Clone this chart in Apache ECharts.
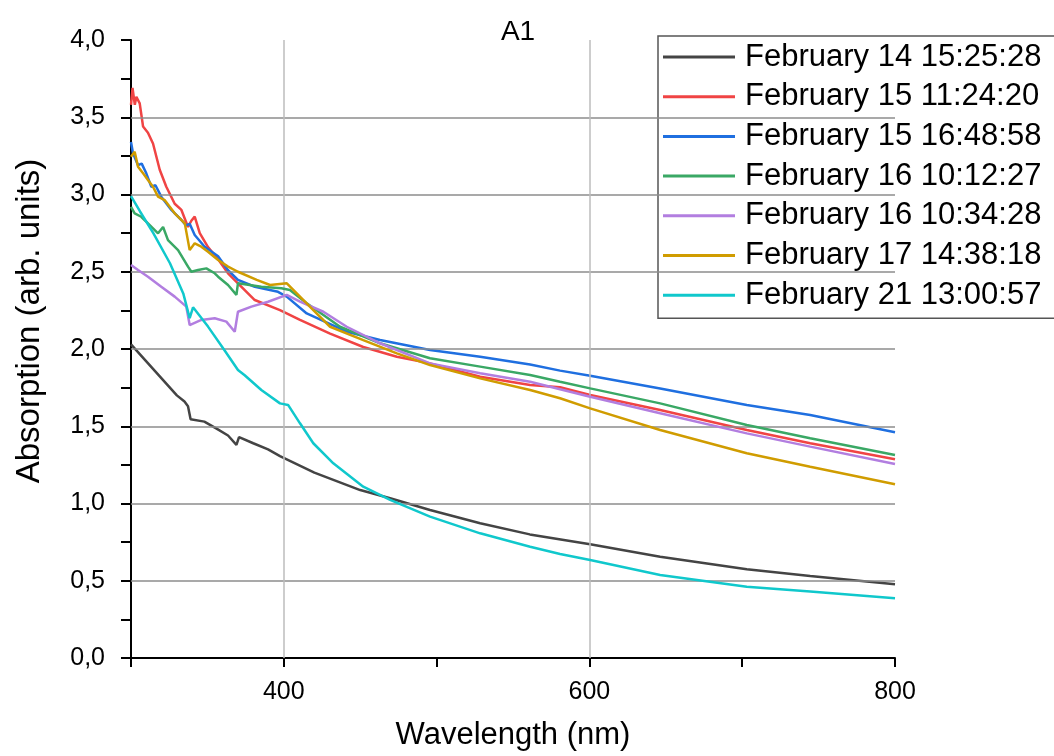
<!DOCTYPE html>
<html><head><meta charset="utf-8">
<script src="https://cdn.jsdelivr.net/npm/echarts@6/dist/echarts.min.js"></script>
<style>html,body{margin:0;padding:0;background:#fff}#c{width:1054px;height:756px}</style>
</head><body><div id="c"></div>
<script>
const seriesNames = ['February 14 15:25:28','February 15 11:24:20','February 15 16:48:58','February 16 10:12:27','February 16 10:34:28','February 17 14:38:18','February 21 13:00:57'];
const seriesColors = ['#444444','#f04444','#1f6fe0','#3aa865','#b27ee0','#d09c00','#10c8cc'];
const yTicks = [0.5,1.0,1.5,2.0,2.5,3.0,3.5];
const xGridTicks = [400,600];

const feb14 = [[300,2.03],[310,1.92],[320,1.81],[330,1.70],[335,1.66],[337.3,1.63],[339,1.545],[348,1.53],[356,1.485],[363.5,1.44],[369,1.38],[370.7,1.43],[380,1.39],[389.7,1.35],[397.5,1.307],[420,1.2],[450,1.087],[469.6,1.034],[495.7,0.958],[528.5,0.872],[561,0.80],[600.5,0.736],[646.3,0.656],[703,0.574],[744.5,0.53],[800,0.477]];
const feb15a = [[300,3.58],[301,3.69],[302.5,3.58],[303.5,3.633],[305.7,3.59],[307.9,3.44],[311.1,3.40],[314.4,3.33],[318.8,3.16],[323.1,3.05],[328.6,2.94],[333,2.90],[337.3,2.79],[339.5,2.83],[341.7,2.857],[345,2.75],[350.4,2.66],[357,2.58],[363.5,2.49],[370,2.425],[381,2.317],[397.5,2.252],[410.6,2.188],[430.3,2.10],[452,2.013],[474,1.95],[495.7,1.907],[528.5,1.82],[561.2,1.767],[580.8,1.752],[600.5,1.702],[646.3,1.605],[703,1.476],[744.5,1.39],[800,1.286]];
const feb15b = [[300,3.34],[301.3,3.267],[304.6,3.19],[307,3.2],[310,3.137],[313.3,3.05],[316,3.06],[319.8,2.986],[326.4,2.90],[333,2.835],[336,2.80],[338.4,2.81],[341.7,2.738],[348.2,2.662],[357,2.60],[363.5,2.51],[370,2.447],[381,2.403],[396.2,2.37],[401.9,2.339],[415,2.23],[441.2,2.112],[463,2.058],[495.7,1.994],[528.5,1.95],[561.2,1.90],[580.8,1.86],[600.5,1.827],[646.3,1.745],[703,1.638],[744.5,1.573],[800,1.461]];
const feb16a = [[300,2.92],[302.4,2.878],[306.7,2.856],[311.1,2.813],[317.7,2.749],[321,2.79],[324.2,2.705],[330.8,2.64],[337.3,2.533],[339.5,2.50],[343.9,2.511],[349.3,2.522],[354.8,2.49],[357,2.468],[363.5,2.414],[369,2.35],[370,2.425],[385.3,2.403],[398.4,2.393],[404,2.382],[415,2.296],[436.8,2.144],[463,2.037],[495.7,1.94],[528.5,1.886],[561.2,1.832],[580.8,1.788],[600.5,1.745],[646.3,1.648],[703,1.508],[744.5,1.422],[800,1.314]];
const feb16b = [[300,2.544],[304.6,2.511],[311.1,2.468],[319.8,2.403],[328.6,2.339],[336.2,2.274],[338.4,2.155],[346,2.188],[354.8,2.199],[362.4,2.177],[367.9,2.112],[370,2.241],[378.8,2.274],[389.7,2.306],[401.9,2.35],[410.6,2.306],[425.9,2.241],[441.2,2.144],[463,2.037],[495.7,1.907],[528.5,1.843],[561.2,1.788],[580.8,1.739],[600.5,1.691],[646.3,1.584],[703,1.454],[744.5,1.368],[800,1.256]];
const feb17 = [[300,3.245],[302.4,3.277],[304.6,3.18],[307.9,3.137],[311.1,3.094],[314.4,3.05],[317.7,2.986],[322,2.964],[328.6,2.878],[335.2,2.813],[338.4,2.64],[341.7,2.684],[346,2.662],[350.4,2.63],[357,2.576],[363.5,2.533],[370,2.50],[382.3,2.447],[391,2.414],[402,2.425],[408.5,2.36],[419.3,2.252],[430.3,2.144],[452,2.058],[474,1.972],[495.7,1.896],[528.5,1.81],[561.2,1.735],[580.8,1.681],[600.5,1.616],[646.3,1.476],[703,1.325],[744.5,1.238],[800,1.124]];
const feb21 = [[300,2.99],[305.9,2.89],[314.6,2.75],[325.5,2.555],[334.2,2.36],[338.4,2.20],[340.6,2.27],[350.4,2.145],[361.3,1.99],[370,1.864],[374.4,1.83],[385.3,1.735],[397.5,1.648],[402.8,1.638],[410.6,1.519],[419.3,1.39],[432.4,1.26],[452,1.109],[469.6,1.023],[495.7,0.915],[528.5,0.807],[561.2,0.72],[580.8,0.673],[600.5,0.634],[646.3,0.537],[703,0.461],[744.5,0.43],[800,0.386]];
const allData = [feb14, feb15a, feb15b, feb16a, feb16b, feb17, feb21];

const chart = echarts.init(document.getElementById('c'), null, {renderer:'canvas'});
const FONT = '"Liberation Sans", Arial, sans-serif';
const gridMarks = yTicks.map(v => ({yAxis: v, lineStyle:{color:'#8c8c8c'}})).concat(xGridTicks.map(v => ({xAxis: v, lineStyle:{color:'#bdbdbd'}})));
const series = [{
  name: '_grid', type: 'line', data: [], z: 1, silent: true,
  markLine: {silent: true, symbol: ['none','none'], label: {show:false}, animation:false,
    lineStyle: {type:'solid', width: 1.5}, data: gridMarks}
}].concat(allData.map((d,i) => ({
  name: seriesNames[i], type: 'line', data: d, symbol: 'none', z: 2 + i,
  lineStyle: {color: seriesColors[i], width: 2.5}, itemStyle: {color: seriesColors[i]}
})));

chart.setOption({
  animation: false,
  backgroundColor: '#fff',
  title: {text: 'A1', left: 513, top: 13, textAlign: 'center', textStyle: {fontFamily: FONT, fontSize: 28, fontWeight: 'normal', color: '#000'}},
  grid: {left: 131, right: 159, top: 40, bottom: 98},
  legend: {
    data: seriesNames, orient: 'vertical', left: 658, top: 36,
    backgroundColor: '#fff', borderColor: '#555', borderWidth: 1.5, borderRadius: 0,
    padding: [5, 40, 7, 5], itemGap: 7.7, itemWidth: 72, itemHeight: 14,
    textStyle: {fontFamily: FONT, fontSize: 31, color: '#000', lineHeight: 32, padding: [0,0,0,5]},
    icon: 'path://M0,0 L72,0 L72,3 L0,3 Z'
  },
  graphic: [{
    type: 'text', silent: true, x: 30, y: 321, rotation: Math.PI / 2,
    style: {text: 'Absorption (arb. units)', fill: '#000', font: '33px "Liberation Sans", Arial, sans-serif', align: 'center', verticalAlign: 'middle'}
  }],
  xAxis: {
    type: 'value', min: 300, max: 800, interval: 100,
    name: 'Wavelength (nm)', nameLocation: 'middle', nameGap: 62,
    nameTextStyle: {fontFamily: FONT, fontSize: 31, color: '#000'},
    axisLine: {show: true, onZero: false, lineStyle: {color: '#000', width: 2}},
    axisTick: {show: true, length: 9, lineStyle: {color: '#000', width: 2}},
    axisLabel: {fontFamily: FONT, fontSize: 25, color: '#000', margin: 22,
      formatter: v => (v % 200 === 0) ? String(v) : ''},
    splitLine: {show: false}
  },
  yAxis: {
    type: 'value', min: 0, max: 4, interval: 0.25,
    axisLine: {show: true, onZero: false, lineStyle: {color: '#000', width: 2}},
    axisTick: {show: true, length: 10, lineStyle: {color: '#000', width: 2}},
    axisLabel: {fontFamily: FONT, fontSize: 25, color: '#000', margin: 26,
      formatter: v => (Math.round(v*4) % 2 === 0) ? v.toFixed(1).replace('.', ',') : ''},
    splitLine: {show: false}
  },
  series: series
});
</script></body></html>
